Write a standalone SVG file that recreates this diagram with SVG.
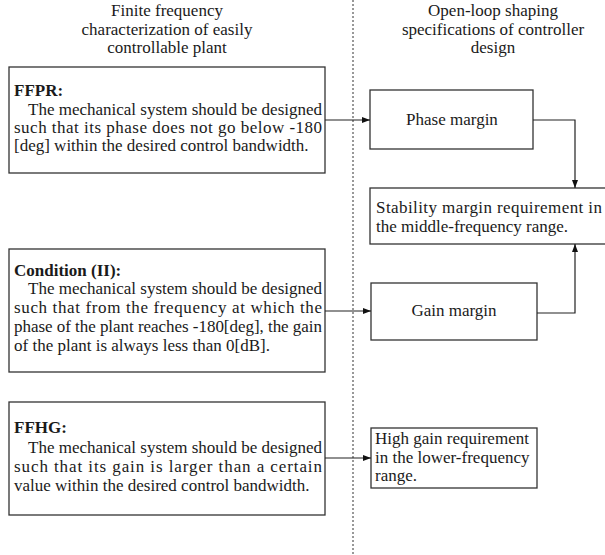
<svg xmlns="http://www.w3.org/2000/svg" width="605" height="555" viewBox="0 0 605 555">
<style>
text{font-family:"Liberation Serif","Times New Roman",serif;font-size:17px;fill:#1a1a1a}
.b{font-weight:bold}
.c{text-anchor:middle}
.box{fill:#fff;stroke:#333;stroke-width:1.3}
.ln{fill:none;stroke:#222;stroke-width:1.2}
.div{stroke:#333;stroke-width:1;stroke-dasharray:2,2}
</style>
<defs>
<marker id="ah" viewBox="0 0 8 6" refX="8" refY="3" markerWidth="8" markerHeight="6" markerUnits="userSpaceOnUse" orient="auto">
<path d="M0,0 L8,3 L0,6 Z" fill="#111"/>
</marker>
</defs>
<line class="div" x1="353" y1="0" x2="353" y2="555"/>
<g id="title-left">
<text class="c" x="167" y="16">Finite frequency</text>
<text class="c" x="167" y="34.5">characterization of easily</text>
<text class="c" x="167" y="53">controllable plant</text>
</g>
<g id="title-right">
<text class="c" x="493" y="16">Open-loop shaping</text>
<text class="c" x="493" y="34.5">specifications of controller</text>
<text class="c" x="493" y="53">design</text>
</g>
<g id="ffpr">
<rect class="box" x="9" y="67" width="316" height="106"/>
<text class="b" x="14" y="96">FFPR:</text>
<text x="28" y="115" textLength="294" lengthAdjust="spacing">The mechanical system should be designed</text>
<text x="14" y="133" textLength="308" lengthAdjust="spacing">such that its phase  does not go below -180</text>
<text x="14" y="151">[deg] within the desired control bandwidth.</text>
</g>
<g id="condition2">
<rect class="box" x="9" y="249" width="316" height="123"/>
<text class="b" x="14" y="276">Condition (II):</text>
<text x="28" y="294" textLength="294" lengthAdjust="spacing">The mechanical system should be designed</text>
<text x="14" y="313" textLength="308" lengthAdjust="spacing">such that from the frequency at which the</text>
<text x="14" y="332" textLength="308" lengthAdjust="spacing">phase of the plant reaches -180[deg], the gain</text>
<text x="14" y="351">of the plant is always less than 0[dB].</text>
</g>
<g id="ffhg">
<rect class="box" x="9" y="402" width="316" height="113"/>
<text class="b" x="14" y="433">FFHG:</text>
<text x="28" y="453" textLength="294" lengthAdjust="spacing">The mechanical system should be designed</text>
<text x="14" y="472" textLength="308" lengthAdjust="spacing">such that its gain is larger than a certain</text>
<text x="14" y="491">value within the desired control bandwidth.</text>
</g>
<g id="phase-margin">
<rect class="box" x="370" y="90" width="163" height="59"/>
<text class="c" x="452" y="125">Phase margin</text>
</g>
<g id="stability">
<rect class="box" x="370" y="188" width="245" height="56"/>
<text x="376" y="213" textLength="226" lengthAdjust="spacing">Stability margin requirement in</text>
<text x="376" y="232">the middle-frequency range.</text>
</g>
<g id="gain-margin">
<rect class="box" x="371" y="283" width="166" height="57"/>
<text class="c" x="454" y="316">Gain margin</text>
</g>
<g id="high-gain">
<rect class="box" x="371" y="428" width="166" height="60"/>
<text x="375" y="444">High gain requirement</text>
<text x="375" y="463">in the lower-frequency</text>
<text x="375" y="481">range.</text>
</g>
<g id="connectors">
<line class="ln" x1="325" y1="120" x2="370" y2="120" marker-end="url(#ah)"/>
<line class="ln" x1="325" y1="311" x2="371" y2="311" marker-end="url(#ah)"/>
<line class="ln" x1="325" y1="458" x2="371" y2="458" marker-end="url(#ah)"/>
<path class="ln" d="M533,120 H575 V188" marker-end="url(#ah)"/>
<path class="ln" d="M537,313 H575 V244" marker-end="url(#ah)"/>
</g>
</svg>
